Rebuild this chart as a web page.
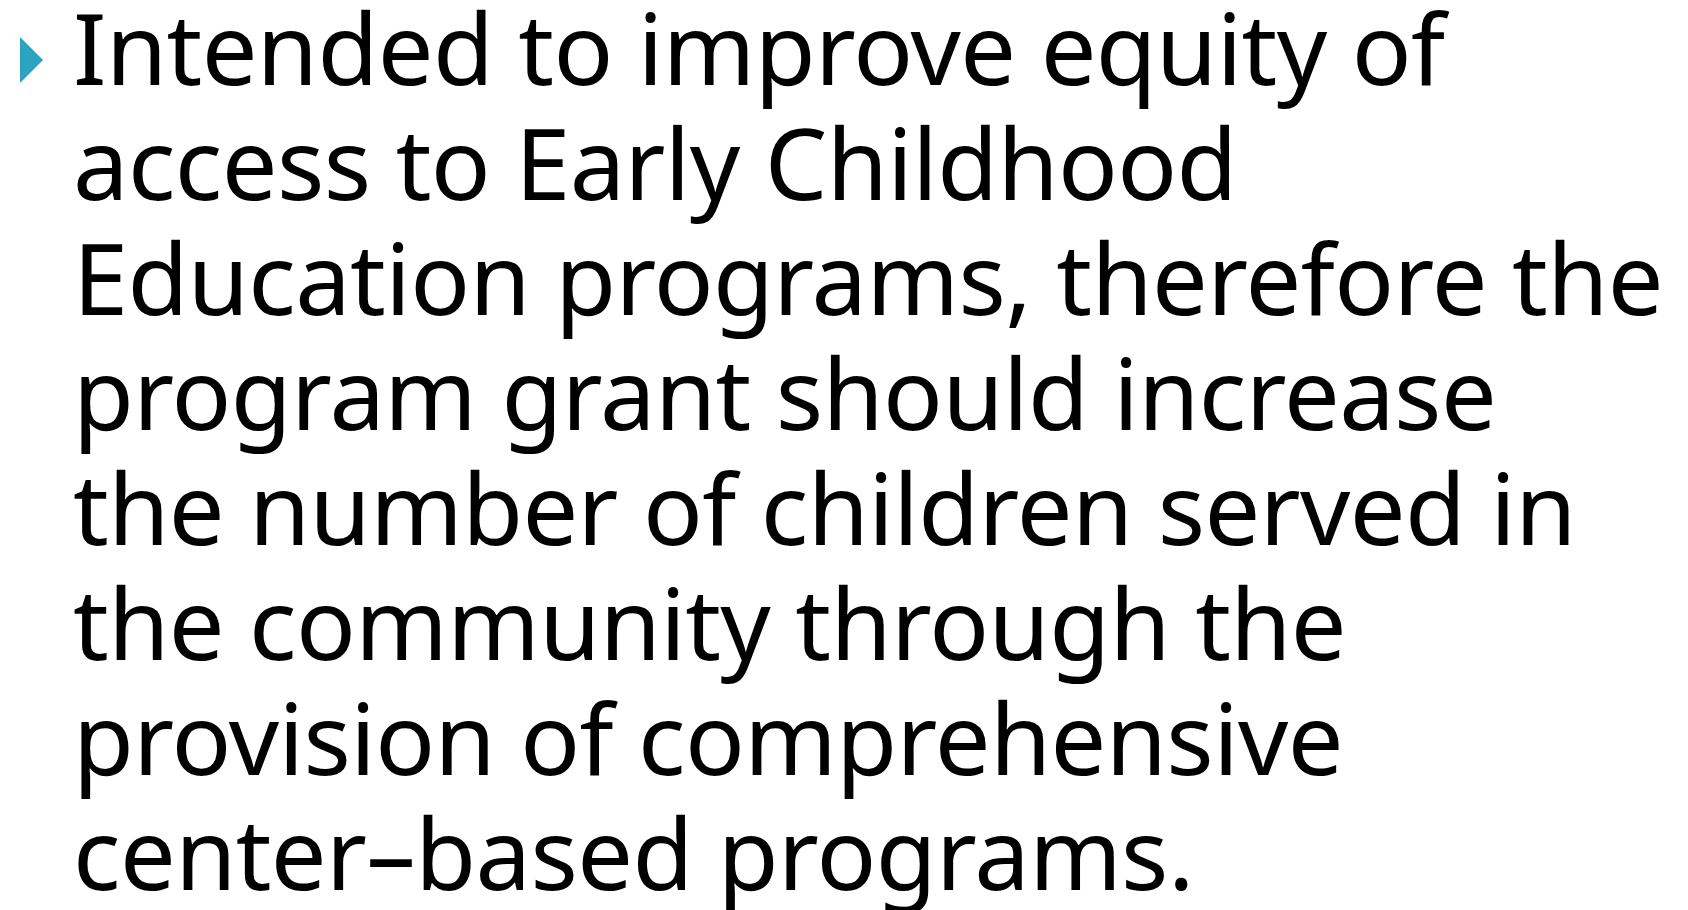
<!DOCTYPE html>
<html>
<head>
<meta charset="utf-8">
<script src="https://cdn.jsdelivr.net/npm/chart.js@4"></script>
<style>
  html, body { margin: 0; padding: 0; background: #fff; }
  body { width: 1688px; height: 910px; overflow: hidden; position: relative; }
  .bullet {
    position: absolute; left: 20px; top: 37px; width: 23px; height: 46px;
    background: #2aa4c0; clip-path: polygon(0 0, 100% 50%, 0 100%);
  }
  #text {
    position: absolute; left: 73px; top: 0;
    font-family: "Noto Sans", sans-serif; font-size: 99px; color: #000;
    white-space: pre;
  }
  .line { position: absolute; left: 0; line-height: 90px; height: 90px; }
  .mark { display: inline-block; width: 0; height: 0; vertical-align: baseline; }
</style>
</head>
<body>
<div class="bullet"></div>
<div id="text"></div>
<script>
// text lines as they break on the slide
const lines = [
  "Intended to improve equity of",
  "access to Early Childhood",
  "Education programs, therefore the",
  "program grant should increase",
  "the number of children served in",
  "the community through the",
  "provision of comprehensive",
  "center–based programs."
];
const firstBaseline = 85;
const lineStep = 115;
const longestWidth = 1590; // width of line 3 in the slide

const box = document.getElementById("text");
const divs = lines.map(t => {
  const d = document.createElement("div");
  d.className = "line";
  d.textContent = t;
  const m = document.createElement("span");
  m.className = "mark";
  d.appendChild(m);
  box.appendChild(d);
  return d;
});

// fit letter spacing to the widest line
const w = divs[2].getBoundingClientRect().width;
const ls = (longestWidth - w) / lines[2].length;
box.style.letterSpacing = ls + "px";

divs.forEach((d, i) => {
  const mark = d.querySelector(".mark");
  const base = mark.getBoundingClientRect().top - d.getBoundingClientRect().top;
  d.style.top = (firstBaseline + i * lineStep - base) + "px";
});
</script>
</body>
</html>
